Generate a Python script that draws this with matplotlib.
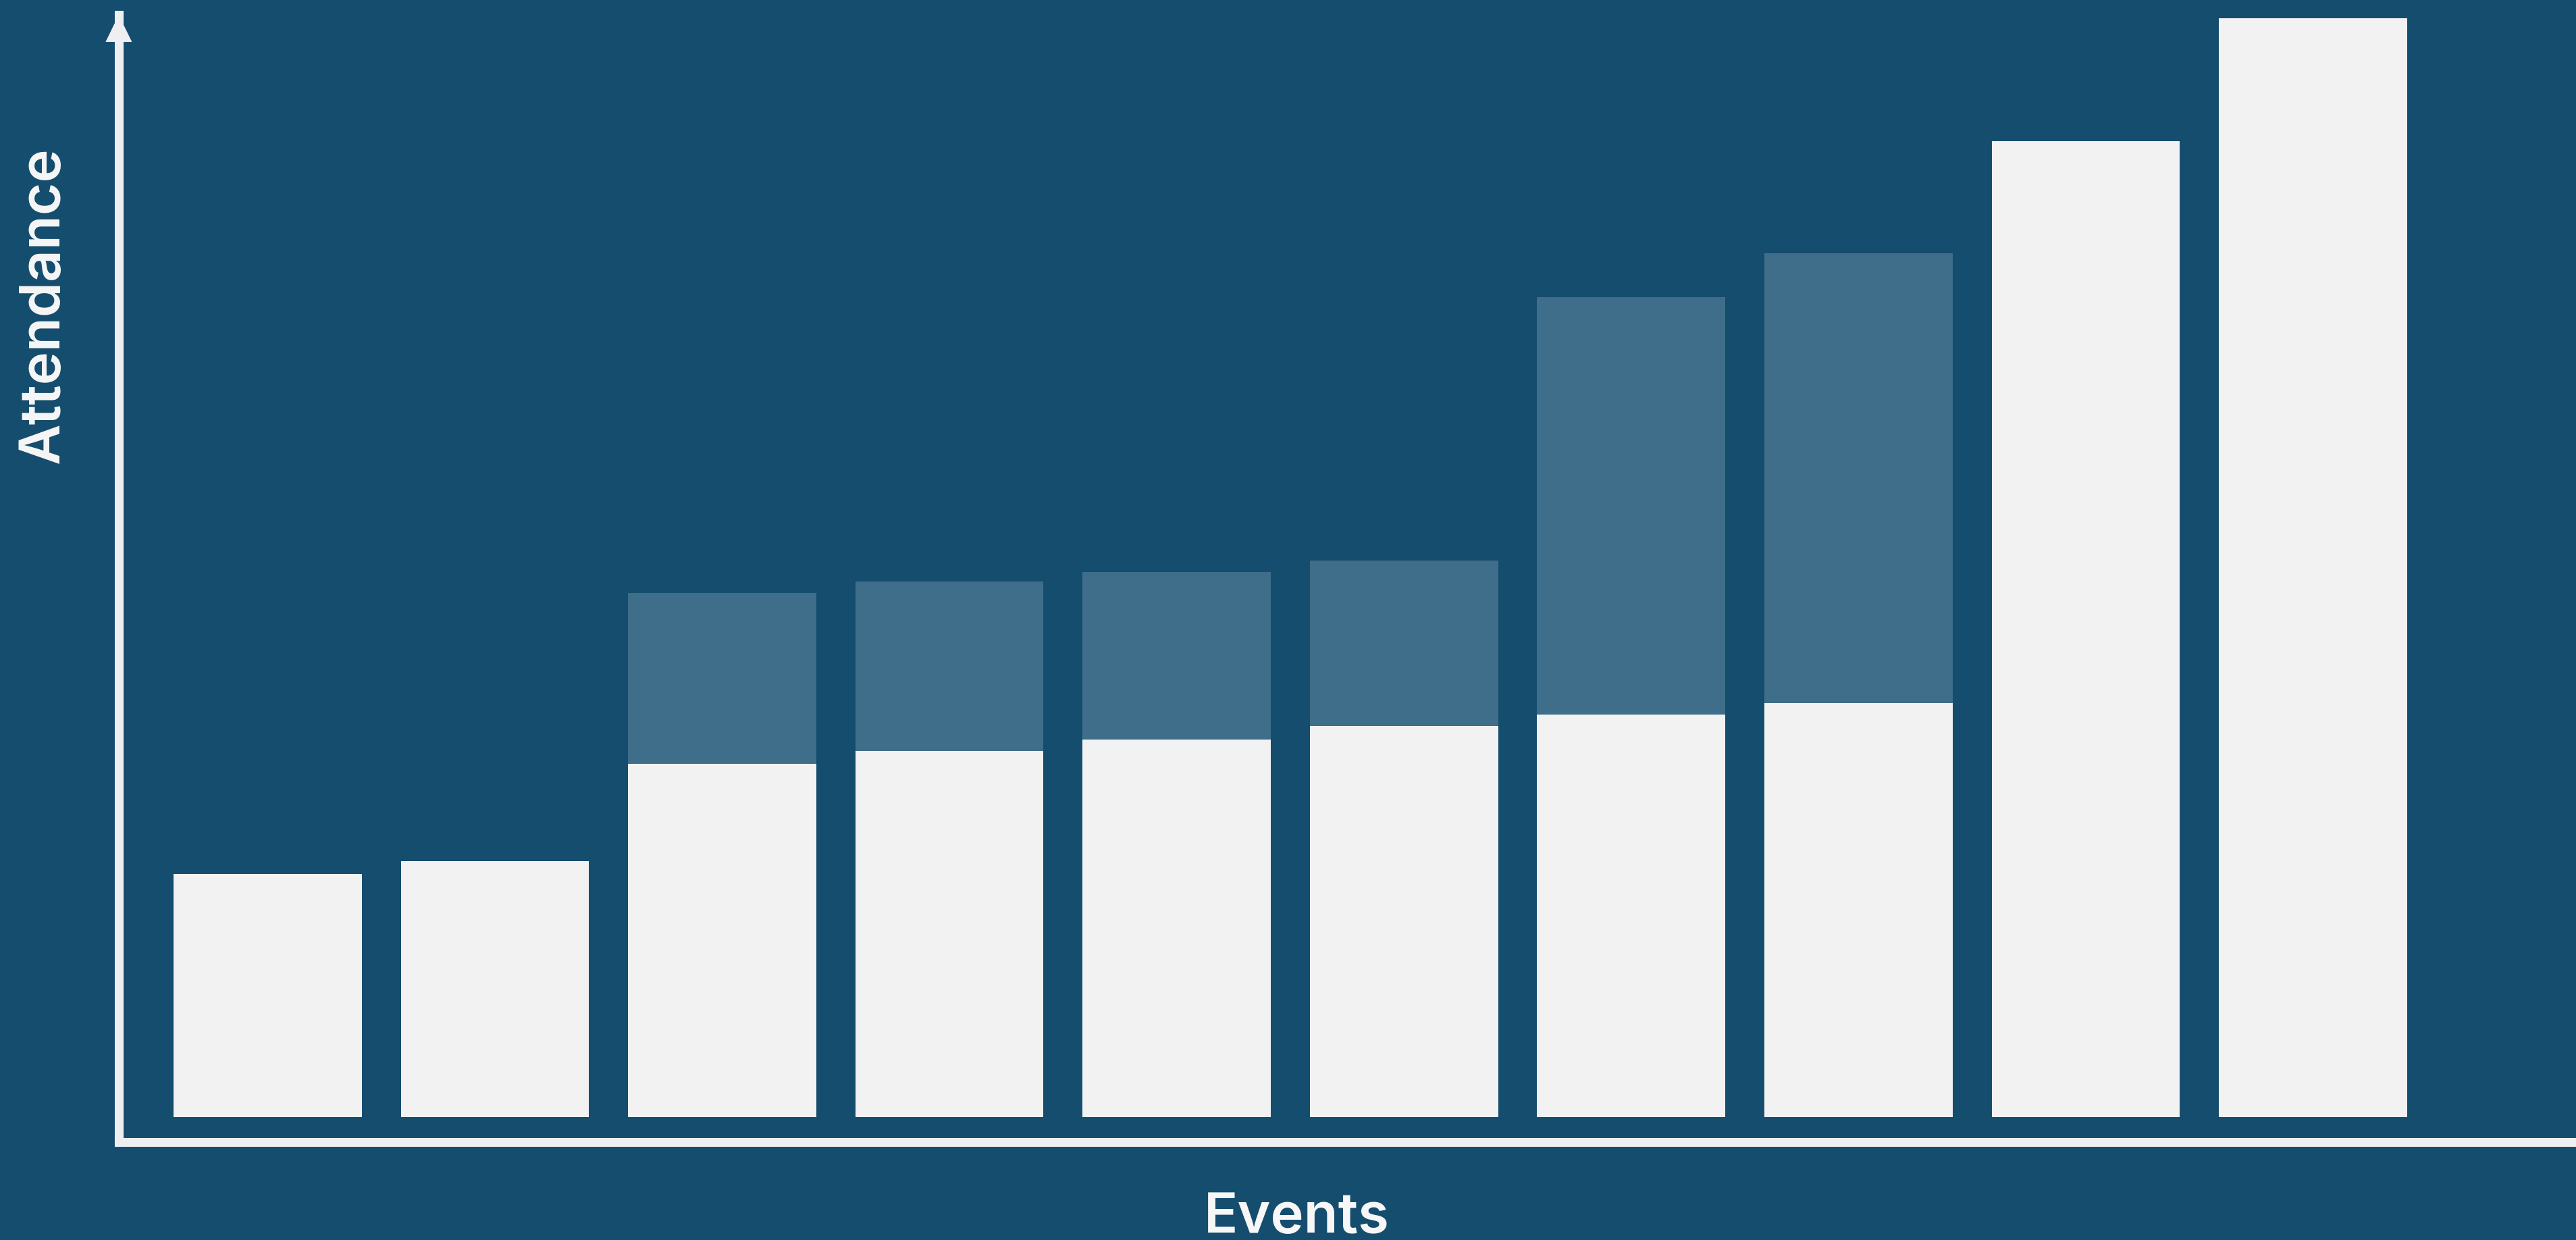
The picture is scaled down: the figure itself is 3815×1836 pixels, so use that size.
import matplotlib
matplotlib.use("Agg")
from matplotlib import pyplot as plt
from matplotlib.patches import Polygon
from matplotlib.transforms import ScaledTranslation

# attendance per event: lower (solid) part and upper (shaded) part
events = ["E1", "E2", "E3", "E4", "E5", "E6", "E7", "E8", "E9", "E10"]
base = [1480, 1560, 2150, 2230, 2300, 2380, 2450, 2520, 5940, 6690]
extra = [0, 0, 1040, 1030, 1020, 1010, 2540, 2740, 0, 0]

bg = "#154d6e"
light = "#f2f2f2"
shade = "#3e6e89"
axis_col = "#efeff1"

fig = plt.figure(figsize=(38.15, 18.36), dpi=100, facecolor=bg)
ax = fig.add_axes([0.0461, 0.079, 1 - 0.0461, 0.988 - 0.079])
ax.set_facecolor(bg)

x = list(range(len(events)))
ax.bar(x, base, width=0.828, color=light, edgecolor="none")
ax.bar(x, extra, width=0.828, bottom=base, color=shade, edgecolor="none")

ax.set_xlim(-0.655, 10.157)
ax.set_ylim(-150, 6710)

for s in ["top", "right"]:
    ax.spines[s].set_visible(False)
for s in ["left", "bottom"]:
    ax.spines[s].set_color(axis_col)
    ax.spines[s].set_linewidth(9.4)
ax.set_xticks([])
ax.set_yticks([])

# arrow head on top of the y axis (sizes in inches, anchored at axes top-left)
head_tr = fig.dpi_scale_trans + ScaledTranslation(0, 1, ax.transAxes)
head = Polygon([(0, 0), (-0.195, -0.40), (0.195, -0.40)], closed=True,
               transform=head_tr, facecolor=axis_col, edgecolor="none",
               clip_on=False)
ax.add_artist(head)

fig.text(0.0228, 0.7541, "Attendance", rotation=90, rotation_mode="anchor",
         ha="center", va="baseline", color="#f7f7f7", fontsize=60,
         family="Inter", fontweight="semibold")
fig.text(0.5033, 0.006, "Events", ha="center", va="baseline",
         color="#f7f7f7", fontsize=60, family="Inter", fontweight="semibold")

fig.savefig("out.png", dpi=100, facecolor=bg)
